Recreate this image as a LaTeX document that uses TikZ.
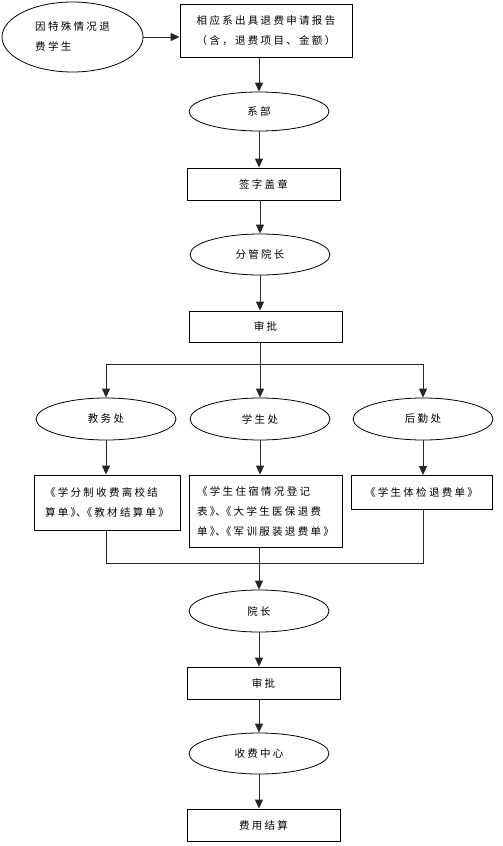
\documentclass[tikz,border=0pt]{standalone}
\usepackage{fontspec}
\newfontfamily\cjk{Noto Sans CJK SC}[LetterSpace=22]
\usepackage{tikz}
\usetikzlibrary{arrows.meta,shapes}
\usetikzlibrary{positioning}
\usetikzlibrary{calc}
\newcommand{\dunhao}{》\kern-5pt、\kern-5pt《}
\tikzset{
    stepbox/.style={draw=black, rectangle, line width=0.8pt, align=left, inner sep=0pt},
    office/.style={draw=black, ellipse, line width=0.8pt, minimum width=140pt, minimum height=41pt, inner sep=0pt, align=left},
    flow/.style={draw=black!85, line width=1pt, -{Triangle[length=9pt,width=8pt]}},
    joint/.style={draw=black!85, line width=1pt},
}

\begin{document}
\begin{tikzpicture}[x=1pt,y=-1pt,font=\cjk\fontsize{10.5pt}{20pt}\selectfont]
\useasboundingbox (0,0) rectangle (503,846);

% top row
\node [office, minimum width=141pt, minimum height=70pt] at (72.5,37) (student) {因特殊情况退\\费学生};
\node [stepbox, minimum width=172pt, minimum height=53pt] at (266,30.5) (report) {相应系出具退费申请报告\\（含，退费项目、金额）};

% main line
\node [office, minimum height=39pt] at (259,111.5) (dept) {系部};
\node [stepbox, minimum width=153pt, minimum height=32pt] at (263.5,184) (sign) {签字盖章};
\node [office] at (260,254.5) (vice) {分管院长};
\node [stepbox, minimum width=153pt, minimum height=31pt] at (265.5,326.5) (check) {审批};
\coordinate (split) at (260,364);

% three offices
\node [office, minimum height=42pt] at (106,419) (jwc) {教务处};
\node [office, minimum height=42pt] at (260,419) (xsc) {学生处};
\node [office, minimum height=42pt] at (423,419) (hqc) {后勤处};
\node [stepbox, minimum width=146pt, minimum height=55pt] at (107,502.5) (jwform) {《学分制收费离校结\\算单\dunhao 教材结算单》};
\node [stepbox, minimum width=153pt, minimum height=72pt] at (265.5,511) (xsform) {《学生住宿情况登记\\表\dunhao 大学生医保退费\\单\dunhao 军训服装退费单》};
\node [stepbox, minimum width=141pt, minimum height=34pt, anchor=north] at (421.5,475) (hqform) {《学生体检退费单》};
\coordinate (merge) at (259,563);

% lower line
\node [office, minimum height=42pt] at (259,611) (dean) {院长};
\node [stepbox, minimum width=153pt, minimum height=32pt] at (263.5,683) (check2) {审批};
\node [office] at (259,753.5) (charge) {收费中心};
\node [stepbox, minimum width=153pt, minimum height=32pt] at (263.5,825) (settle) {费用结算};

\draw [flow] (student.east) -- (student.east -| report.west);
\draw [flow] (report.south -| dept.north) -- (dept.north);
\draw [flow] (dept.south) -- (dept.south |- sign.north);
\draw [flow] (sign.south -| vice.north) -- (vice.north);
\draw [flow] (vice.south) -- (vice.south |- check.north);

\draw [joint] (check.south -| split) -- (split);
\draw [joint] (split -| jwc.north) -- (split -| hqc.north);
\draw [flow] (split -| jwc.north) -- (jwc.north);
\draw [flow] (split) -- (xsc.north);
\draw [flow] (split -| hqc.north) -- (hqc.north);

\draw [flow] (jwc.south) -- (jwc.south |- jwform.north);
\draw [flow] (xsc.south) -- (xsc.south |- xsform.north);
\draw [flow] (hqc.south) -- (hqc.south |- hqform.north);

\draw [joint] (jwc.south |- jwform.south) -- (jwc.south |- merge) -- (hqc.south |- merge) -- (hqc.south |- hqform.south);
\draw [flow] (xsform.south -| dean.north) -- (dean.north);

\draw [flow] (dean.south) -- (dean.south |- check2.north);
\draw [flow] (check2.south -| charge.north) -- (charge.north);
\draw [flow] (charge.south) -- (charge.south |- settle.north);
\end{tikzpicture}
\end{document}
